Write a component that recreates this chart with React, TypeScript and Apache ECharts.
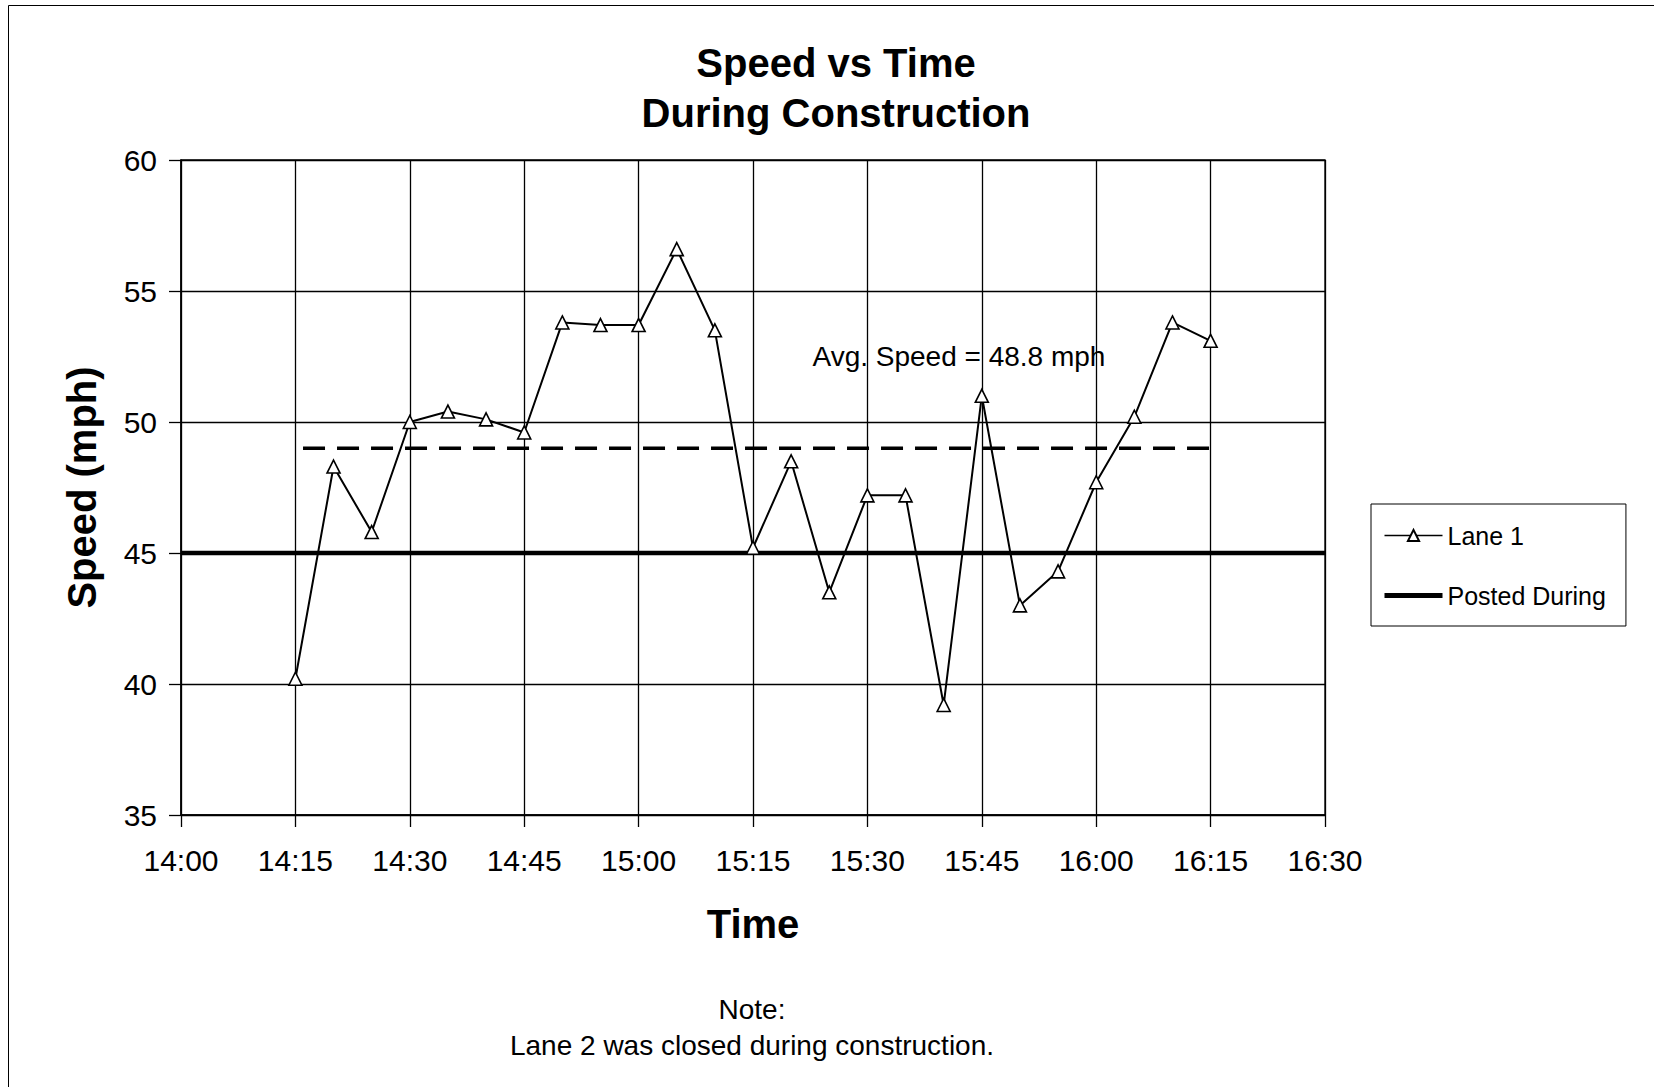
import React, { useEffect, useRef } from "react";
import * as echarts from "echarts";

const FONT = "'Liberation Sans', Arial, Helvetica, sans-serif";

// Lane 1 observations (time of day, speed in mph)
const timeLabels = [
  "14:15", "14:20", "14:25", "14:30", "14:35", "14:40", "14:45", "14:50", "14:55",
  "15:00", "15:05", "15:10", "15:15", "15:20", "15:25", "15:30", "15:35", "15:40",
  "15:45", "15:50", "15:55", "16:00", "16:05", "16:10", "16:15",
];
const lane1Speeds = [
  40.2, 48.3, 45.8, 50.0, 50.4, 50.1, 49.6, 53.8, 53.7,
  53.7, 56.6, 53.5, 45.2, 48.5, 43.5, 47.2, 47.2, 39.2,
  51.0, 43.0, 44.3, 47.7, 50.2, 53.8, 53.1,
];

// Posted speed during construction
const postedSpeed = 45;
const postedSpan = ["14:00", "16:30"];

// Average speed reference line (as drawn) and its annotation
const avgLineValue = 49.0;
const avgSpanMinutes = [856, 975];
const avgLabelText = "Avg. Speed = 48.8 mph";
const avgLabelAt = ["15:42", 52.5];

// Axes
const xMin = "14:00";
const xMax = "16:30";
const xStepMinutes = 15;
const yMin = 35;
const yMax = 60;
const yStep = 5;

const titleLines = ["Speed vs Time", "During Construction"];
const noteLines = ["Note:", "Lane 2 was closed during construction."];

const toMin = (t: string) => {
  const [h, m] = t.split(":").map(Number);
  return h * 60 + m;
};
const fmt = (v: number) => {
  const h = Math.floor(v / 60);
  const m = Math.round(v - h * 60);
  return `${h}:${String(m).padStart(2, "0")}`;
};

export default function App() {
  const ref = useRef<HTMLDivElement>(null);

  useEffect(() => {
    if (!ref.current) return;
    const chart = echarts.init(ref.current, undefined, { renderer: "svg" });

    const lane1Data = timeLabels.map((t, i) => [toMin(t), lane1Speeds[i]]);
    const postedData = postedSpan.map((t) => [toMin(t), postedSpeed]);
    const avgData = avgSpanMinutes.map((m) => [m, avgLineValue]);

    const option: any = {
      animation: false,
      backgroundColor: "#ffffff",
      textStyle: { fontFamily: FONT, color: "#000" },
      grid: {
        left: 181,
        top: 160,
        width: 1144,
        height: 655,
        show: true,
        borderColor: "#000",
        borderWidth: 1.3,
        backgroundColor: "transparent",
      },
      legend: {
        data: [
          { name: "Lane 1", lineStyle: { width: 1.6, color: "#000" } },
          { name: "Posted During", lineStyle: { width: 5, color: "#000" } },
        ],
        orient: "vertical",
        left: 1371,
        top: 504,
        padding: [19, 20, 18, 11],
        borderColor: "#000",
        borderWidth: 1,
        backgroundColor: "#fff",
        itemWidth: 58,
        itemHeight: 14,
        itemGap: 35,
        textStyle: { fontSize: 25, color: "#000", fontFamily: FONT },
      },
      xAxis: {
        type: "value",
        min: toMin(xMin),
        max: toMin(xMax),
        interval: xStepMinutes,
        name: "Time",
        nameLocation: "middle",
        nameGap: 89,
        nameTextStyle: { fontSize: 40, fontWeight: "bold", color: "#000", fontFamily: FONT },
        axisLine: { show: true, lineStyle: { color: "#000", width: 1.5 } },
        axisTick: { show: true, length: 12, lineStyle: { color: "#000", width: 1.3 } },
        axisLabel: {
          formatter: (v: number) => fmt(v),
          fontSize: 30,
          color: "#000",
          margin: 30,
          fontFamily: FONT,
        },
        splitLine: { show: true, lineStyle: { color: "#000", width: 1.3 } },
      },
      yAxis: {
        type: "value",
        min: yMin,
        max: yMax,
        interval: yStep,
        name: "Speed (mph)",
        nameLocation: "middle",
        nameGap: 79,
        nameRotate: 90,
        nameTextStyle: { fontSize: 40, fontWeight: "bold", color: "#000", fontFamily: FONT },
        axisLine: { show: true, lineStyle: { color: "#000", width: 1.5 } },
        axisTick: { show: true, length: 12, lineStyle: { color: "#000", width: 1.3 } },
        axisLabel: { fontSize: 30, color: "#000", margin: 24, fontFamily: FONT },
        splitLine: { show: true, lineStyle: { color: "#000", width: 1.3 } },
      },
      series: [
        {
          name: "Posted During",
          type: "line",
          data: postedData,
          symbol: "none",
          showSymbol: false,
          lineStyle: { color: "#000", width: 4.5 },
          itemStyle: { color: "transparent", borderWidth: 0 },
          z: 3,
        },
        {
          name: "Average",
          type: "line",
          data: avgData,
          symbol: "none",
          showSymbol: false,
          lineStyle: { color: "#000", width: 3.5, type: [22, 12] },
          itemStyle: { color: "#000" },
          z: 3,
          markPoint: {
            symbol: "rect",
            symbolSize: [1, 1],
            itemStyle: { color: "transparent" },
            label: {
              show: true,
              position: "inside",
              formatter: avgLabelText,
              fontSize: 28,
              color: "#000",
              fontFamily: FONT,
            },
            data: [{ coord: [toMin(avgLabelAt[0] as string), avgLabelAt[1]] }],
          },
        },
        {
          name: "Lane 1",
          type: "line",
          data: lane1Data,
          symbol: "triangle",
          symbolSize: 13,
          showSymbol: true,
          lineStyle: { color: "#000", width: 2 },
          itemStyle: { color: "#fff", borderColor: "#000", borderWidth: 1.6 },
          z: 5,
        },
      ],
      graphic: [
        {
          type: "rect",
          shape: { x: 8.5, y: 5.5, width: 1700, height: 1200 },
          style: { fill: "none", stroke: "#000", lineWidth: 1 },
          silent: true,
          z: -10,
        },
        {
          type: "text",
          x: 836,
          y: 63,
          style: {
            text: titleLines[0],
            align: "center",
            verticalAlign: "middle",
            font: `bold 40px ${FONT}`,
            fill: "#000",
          },
        },
        {
          type: "text",
          x: 836,
          y: 113,
          style: {
            text: titleLines[1],
            align: "center",
            verticalAlign: "middle",
            font: `bold 40px ${FONT}`,
            fill: "#000",
          },
        },
        {
          type: "text",
          x: 752,
          y: 1009,
          style: {
            text: noteLines[0],
            align: "center",
            verticalAlign: "middle",
            font: `28px ${FONT}`,
            fill: "#000",
          },
        },
        {
          type: "text",
          x: 752,
          y: 1045,
          style: {
            text: noteLines[1],
            align: "center",
            verticalAlign: "middle",
            font: `28px ${FONT}`,
            fill: "#000",
          },
        },
      ],
    };

    chart.setOption(option);
    return () => chart.dispose();
  }, []);

  return (
    <div
      ref={ref}
      style={{ position: "fixed", left: 0, top: 0, width: 1654, height: 1087, background: "#fff" }}
    />
  );
}
